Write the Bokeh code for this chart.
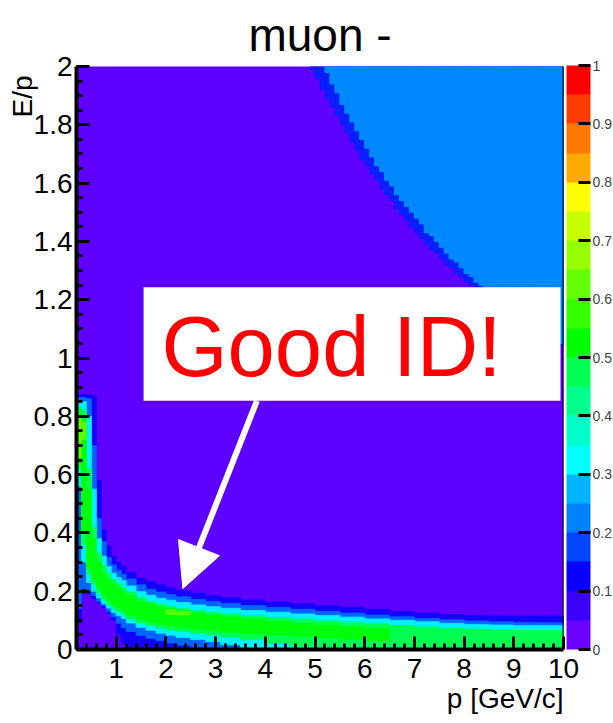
import math
from bokeh.plotting import figure
from bokeh.models import (Range1d, FixedTicker, ColorBar, LinearColorMapper, Label, Title,
                          BoxAnnotation, Arrow, NormalHead, Span)
from bokeh.embed import file_html
from bokeh.resources import INLINE

NaN = float("nan")

# ---------------- texts / axes ----------------
title_text = "muon -"
x_title = "p [GeV/c]"
y_title = "E/p"
p_min, p_max = 0.2, 10.0
ep_min, ep_max = 0.0, 2.0

x_ticks = [1, 2, 3, 4, 5, 6, 7, 8, 9, 10]
y_ticks = [0.0, 0.2, 0.4, 0.6, 0.8, 1.0, 1.2, 1.4, 1.6, 1.8, 2.0]
y_tick_labels = ["0", "0.2", "0.4", "0.6", "0.8", "1", "1.2", "1.4", "1.6", "1.8", "2"]
cb_ticks = [0.0, 0.1, 0.2, 0.3, 0.4, 0.5, 0.6, 0.7, 0.8, 0.9, 1.0]
cb_tick_labels = ["0", "0.1", "0.2", "0.3", "0.4", "0.5", "0.6", "0.7", "0.8", "0.9", "1"]

# 20-step palette of the z scale (bottom -> top)
cb_palette = ["#6C00FF", "#3C00FF", "#0A00FF", "#0046FF", "#0082FF", "#00B4FF", "#00FFFF",
              "#00FFC8", "#00FF8C", "#00FF50", "#00FF00", "#32FF00", "#64FF00", "#96FF00",
              "#C8FF00", "#FFFF00", "#FFAA00", "#FF7800", "#FF3C00", "#FF0000"]
bg_color = "#5E00FF"

# ---------------- empty high-E region (upper right), 0.1-wide p columns ----------------
hi_p_lo = [4.9, 5.0, 5.1, 5.2, 5.3, 5.4, 5.5, 5.6, 5.7, 5.8, 5.9, 6.0, 6.1, 6.2, 6.3, 6.4, 6.5,
           6.6, 6.7, 6.8, 6.9, 7.0, 7.1, 7.2, 7.3, 7.4, 7.5, 7.6, 7.7, 7.8, 7.9, 8.0, 8.1, 8.2,
           8.3, 8.4, 8.5, 8.6, 8.7, 8.8, 8.9, 9.0, 9.1, 9.2, 9.3, 9.4, 9.5, 9.6, 9.7, 9.8, 9.9]
hi_p_hi = [5.0, 5.1, 5.2, 5.3, 5.4, 5.5, 5.6, 5.7, 5.8, 5.9, 6.0, 6.1, 6.2, 6.3, 6.4, 6.5, 6.6,
           6.7, 6.8, 6.9, 7.0, 7.1, 7.2, 7.3, 7.4, 7.5, 7.6, 7.7, 7.8, 7.9, 8.0, 8.1, 8.2, 8.3,
           8.4, 8.5, 8.6, 8.7, 8.8, 8.9, 9.0, 9.1, 9.2, 9.3, 9.4, 9.5, 9.6, 9.7, 9.8, 9.9, 10.0]
hi_edge_lo = [1.99, 1.96, 1.92, 1.89, 1.86, 1.83, 1.80, 1.77, 1.74, 1.71, 1.68, 1.66, 1.63,
              1.61, 1.58, 1.56, 1.54, 1.51, 1.49, 1.47, 1.45, 1.43, 1.41, 1.39, 1.37, 1.36,
              1.34, 1.32, 1.31, 1.29, 1.28, 1.26, 1.25, 1.23, 1.22, 1.21, 1.19, 1.18, 1.17,
              1.15, 1.14, 1.13, 1.12, 1.11, 1.10, 1.09, 1.08, 1.07, 1.06, 1.05, 1.04]
hi_fill_lo = [NaN, NaN, NaN, 1.98, 1.94, 1.91, 1.87, 1.84, 1.81, 1.78, 1.75, 1.72, 1.69,
              1.66, 1.64, 1.61, 1.59, 1.56, 1.54, 1.52, 1.50, 1.48, 1.46, 1.43, 1.42, 1.40,
              1.38, 1.36, 1.34, 1.33, 1.31, 1.29, 1.28, 1.26, 1.25, 1.23, 1.22, 1.20, 1.19,
              1.18, 1.16, 1.15, 1.14, 1.12, 1.11, 1.10, 1.09, 1.08, 1.07, 1.06, 1.05]

# ---------------- muon band, per p column ----------------
band_p_lo = [0.2, 0.3, 0.4, 0.5, 0.6, 0.7, 0.8, 0.9, 1.0, 1.1, 1.2, 1.4, 1.6, 1.8, 2.0, 2.2,
             2.5, 2.8, 3.1, 3.5, 4.0, 4.5, 5.0, 5.5, 6.0, 6.5, 7.0, 7.5, 8.0, 8.5, 9.0, 9.5]
band_p_hi = [0.3, 0.4, 0.5, 0.6, 0.7, 0.8, 0.9, 1.0, 1.1, 1.2, 1.4, 1.6, 1.8, 2.0, 2.2, 2.5,
             2.8, 3.1, 3.5, 4.0, 4.5, 5.0, 5.5, 6.0, 6.5, 7.0, 7.5, 8.0, 8.5, 9.0, 9.5, 10.0]

lvl_a_hi = [0.875, 0.875, 0.875, 0.87, 0.58, 0.41, 0.355, 0.32, 0.30, 0.285, 0.265, 0.245,
            0.232, 0.222, 0.212, 0.203, 0.193, 0.185, 0.178, 0.17, 0.163, 0.157, 0.15, 0.145,
            0.138, 0.13, 0.125, 0.12, 0.116, 0.115, 0.115, 0.115]
lvl_a_lo = [0.09, 0.19, 0.19, 0.175, 0.16, 0.145, 0.125, 0.10, 0.05, 0.02, 0, 0, 0, 0, 0, 0,
            0, 0, 0, 0, 0, 0, 0, 0, 0, 0, 0, 0, 0, 0, 0, 0]
lvl_b_hi = [0.865, 0.865, 0.86, 0.70, 0.45, 0.37, 0.315, 0.29, 0.272, 0.258, 0.242, 0.222,
            0.207, 0.197, 0.189, 0.181, 0.172, 0.165, 0.158, 0.151, 0.144, 0.138, 0.131, 0.125,
            0.118, 0.112, 0.107, 0.102, 0.098, 0.095, 0.093, 0.092]
lvl_b_lo = [0.14, 0.21, 0.20, 0.185, 0.165, 0.15, 0.13, 0.112, 0.09, 0.075, 0.062, 0.048,
            0.038, 0.03, 0.022, 0.015, 0.008, 0, 0, 0, 0, 0, 0, 0, 0, 0, 0, 0, 0, 0, 0, 0]
lvl_c_hi = [0.85, 0.85, 0.80, 0.55, 0.38, 0.32, 0.285, 0.262, 0.247, 0.236, 0.218, 0.198,
            0.186, 0.176, 0.169, 0.161, 0.153, 0.147, 0.141, 0.134, 0.128, 0.122, 0.117, 0.111,
            0.105, 0.10, 0.095, 0.09, 0.086, 0.084, 0.082, 0.082]
lvl_c_lo = [0.56, 0.30, 0.23, 0.20, 0.177, 0.157, 0.142, 0.127, 0.116, 0.106, 0.091, 0.076,
            0.066, 0.056, 0.049, 0.041, 0.034, 0.027, 0.016, 0.006, 0, 0, 0, 0, 0, 0, 0, 0,
            0, 0, 0, 0]
lvl_e_hi = [0.83, 0.82, 0.62, 0.42, 0.33, 0.29, 0.26, 0.24, 0.225, 0.213, 0.197, 0.178,
            0.165, 0.155, 0.148, 0.14, 0.133, 0.127, 0.122, 0.116, 0.11, 0.104, 0.098, 0.093,
            0.088, 0.082, 0.077, 0.073, 0.07, 0.067, 0.065, 0.065]
lvl_e_lo = [0.62, 0.36, 0.26, 0.225, 0.195, 0.172, 0.155, 0.14, 0.13, 0.12, 0.105, 0.092,
            0.082, 0.074, 0.067, 0.062, 0.056, 0.05, 0.043, 0.033, 0.02, 0.01, 0, 0, 0, 0,
            0, 0, 0, 0, 0, 0]
lvl_f_hi = [0.82, 0.80, 0.55, 0.38, 0.30, 0.265, 0.24, 0.225, 0.21, 0.2, 0.185, 0.165,
            0.155, 0.145, 0.14, 0.132, 0.125, 0.118, 0.112, 0.105, 0.097, 0.09, 0.084, 0.078,
            0.072, NaN, NaN, NaN, NaN, NaN, NaN, NaN]
lvl_f_lo = [0.64, 0.40, 0.28, 0.24, 0.21, 0.185, 0.167, 0.152, 0.142, 0.132, 0.117, 0.102,
            0.094, 0.087, 0.081, 0.076, 0.07, 0.065, 0.06, 0.055, 0.05, 0.045, 0.04, 0.035,
            0.03, NaN, NaN, NaN, NaN, NaN, NaN, NaN]
# brightest spots
spot_p_lo = [0.2, 0.3, 2.0, 2.2]
spot_p_hi = [0.3, 0.4, 2.2, 2.5]
spot_lo = [0.66, 0.72, 0.12, 0.118]
spot_hi = [0.80, 0.78, 0.136, 0.13]

# ---------------- annotation ----------------
note_text = "Good ID!"
note_box = dict(left=1.55, right=9.94, bottom=0.853, top=1.243)
note_xy = (1.91, 1.04)
arrow_from = (3.83, 0.853)
arrow_to = (2.34, 0.209)

FONT = "Liberation Sans"

p = figure(width=613, height=723, x_range=Range1d(p_min, p_max), y_range=Range1d(ep_min, ep_max),
           output_backend="svg", toolbar_location=None, title=title_text,
           min_border_left=76, min_border_right=50, min_border_top=65, min_border_bottom=74,
           background_fill_color=bg_color, border_fill_color="white", outline_line_color=None)
p.xgrid.visible = False
p.ygrid.visible = False

p.title.align = "center"
p.title.text_font = FONT
p.title.text_font_size = "46px"
p.title.text_font_style = "normal"
p.title.text_color = "black"
p.title.standoff = 12

# high-E empty region
p.quad(left=hi_p_lo, right=hi_p_hi, bottom=hi_edge_lo, top=[ep_max] * len(hi_p_lo),
       fill_color="#0A1EFF", line_color="#0A1EFF", line_width=0.6)
p.quad(left=hi_p_lo, right=hi_p_hi, bottom=hi_fill_lo, top=[ep_max] * len(hi_p_lo),
       fill_color="#0088FF", line_color="#0088FF", line_width=1.2)

levels = [(lvl_a_lo, lvl_a_hi, "#1400FF"), (lvl_b_lo, lvl_b_hi, "#0064FF"),
          (lvl_c_lo, lvl_c_hi, "#00F0FF"), (lvl_e_lo, lvl_e_hi, "#00FF50"),
          (lvl_f_lo, lvl_f_hi, "#00FF0A")]
for lo, hi, col in levels:
    p.quad(left=band_p_lo, right=band_p_hi, bottom=lo, top=hi,
           fill_color=col, line_color=col, line_width=0.8)
p.quad(left=spot_p_lo, right=spot_p_hi, bottom=spot_lo, top=spot_hi,
       fill_color="#5AFF00", line_color="#5AFF00", line_width=0.6)

p.add_layout(Span(location=p_max, dimension="height", line_color="black", line_width=2))

# axes
xa = p.xaxis[0]
ya = p.yaxis[0]
xa.ticker = FixedTicker(ticks=x_ticks, minor_ticks=[round(0.2 * i, 1) for i in range(1, 50)])
ya.ticker = FixedTicker(ticks=y_ticks, minor_ticks=[round(0.05 * i, 2) for i in range(0, 41)])
ya.major_label_overrides = dict(zip(y_ticks, y_tick_labels))
for ax in (xa, ya):
    ax.axis_line_color = "black"
    ax.axis_line_width = 4
    ax.major_tick_in = 13
    ax.major_tick_out = 0
    ax.major_tick_line_width = 3
    ax.major_tick_line_color = "black"
    ax.minor_tick_in = 6
    ax.minor_tick_out = 0
    ax.minor_tick_line_width = 3
    ax.minor_tick_line_color = "black"
    ax.major_label_text_font = FONT
    ax.major_label_text_font_size = "28px"
    ax.major_label_text_color = "black"
xa.major_label_standoff = 9
ya.major_label_standoff = 4

# axis titles (placed at the axis ends, ROOT style)
p.add_layout(Title(text=y_title, align="left", text_font=FONT, text_font_size="28px",
                   text_font_style="normal", text_color="black", standoff=-15, offset=532), "left")
p.add_layout(Title(text=x_title, align="right", text_font=FONT, text_font_size="28px",
                   text_font_style="normal", text_color="black", standoff=0, offset=0), "below")

# colour scale
mapper = LinearColorMapper(palette=cb_palette, low=0, high=1)
cb = ColorBar(color_mapper=mapper, location=(490, 0), width=24, height=584, padding=0, margin=0,
              ticker=FixedTicker(ticks=cb_ticks),
              major_label_overrides=dict(zip(cb_ticks, cb_tick_labels)),
              major_tick_in=12, major_tick_out=0, major_tick_line_color="black",
              major_tick_line_width=3, minor_tick_line_color=None,
              bar_line_color=None, border_line_color=None, background_fill_color=None,
              label_standoff=2, major_label_text_font=FONT, major_label_text_font_size="14px")
p.add_layout(cb)

# annotation
p.add_layout(BoxAnnotation(fill_color="white", fill_alpha=1.0, line_alpha=0.0, **note_box))
p.add_layout(Label(x=note_xy[0], y=note_xy[1], text=note_text, text_color="#FF0000",
                   text_font=FONT, text_font_size="85px", text_baseline="alphabetic"))
p.add_layout(Arrow(x_start=arrow_from[0], y_start=arrow_from[1], x_end=arrow_to[0], y_end=arrow_to[1],
                   line_color="white", line_width=6,
                   end=NormalHead(size=44, fill_color="white", line_color="white", line_width=1)))

open("out.html", "w").write(file_html(p, INLINE))
